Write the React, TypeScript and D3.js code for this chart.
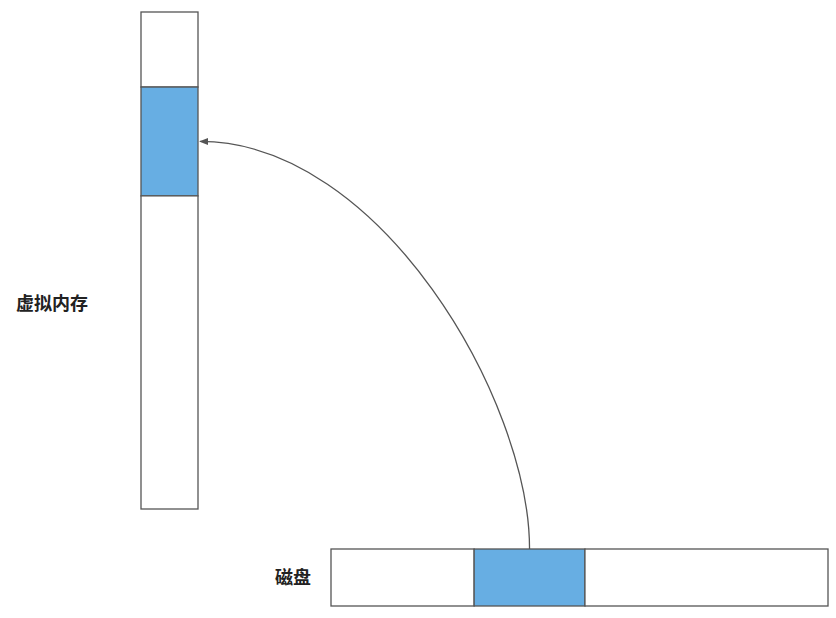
import * as React from "react";
import * as d3 from "d3";

// segments as fractions of each bar's length
const memorySegments = [
  { from: 0, to: 0.151, fill: "#ffffff" },
  { from: 0.151, to: 0.37, fill: "#67aee3" },
  { from: 0.37, to: 1, fill: "#ffffff" },
];
const diskSegments = [
  { from: 0, to: 0.288, fill: "#ffffff" },
  { from: 0.288, to: 0.511, fill: "#67aee3" },
  { from: 0.511, to: 1, fill: "#ffffff" },
];
const labels = ["虚拟内存", "磁盘"];

const W = 836;
const H = 618;

export default function App() {
  const memY = d3.scaleLinear().domain([0, 1]).range([12, 509]);
  const memX = [141, 198];
  const diskX = d3.scaleLinear().domain([0, 1]).range([331, 828]);
  const diskY = [549, 606];

  const p = d3.path();
  const sx = (diskX(diskSegments[1].from) + diskX(diskSegments[1].to)) / 2;
  const ey = (memY(memorySegments[1].from) + memY(memorySegments[1].to)) / 2;
  p.moveTo(sx, diskY[0]);
  p.bezierCurveTo(sx, 400, 380, ey, memX[1] + 2, ey);

  return (
    <svg width={W} height={H} style={{ position: "absolute", left: 0, top: 0 }}>
      <defs>
        <marker id="arr" viewBox="0 0 10 10" refX="9" refY="5" markerWidth="7" markerHeight="7" orient="auto-start-reverse">
          <path d="M0,1 L10,5 L0,9 z" fill="#555" />
        </marker>
      </defs>
      {memorySegments.map((s, i) => (
        <rect key={"m" + i} x={memX[0]} y={memY(s.from)} width={memX[1] - memX[0]}
          height={memY(s.to) - memY(s.from)} fill={s.fill} stroke="#555" strokeWidth={1.3} />
      ))}
      {diskSegments.map((s, i) => (
        <rect key={"d" + i} x={diskX(s.from)} y={diskY[0]} width={diskX(s.to) - diskX(s.from)}
          height={diskY[1] - diskY[0]} fill={s.fill} stroke="#555" strokeWidth={1.3} />
      ))}
      <path d={p.toString()} fill="none" stroke="#555" strokeWidth={1.3} markerEnd="url(#arr)" />
      <g fontFamily="'Noto Sans CJK SC'" fontWeight="bold" fontSize={18} fill="#222">
        <text x={16} y={310}>{labels[0]}</text>
        <text x={275} y={584}>{labels[1]}</text>
      </g>
    </svg>
  );
}
